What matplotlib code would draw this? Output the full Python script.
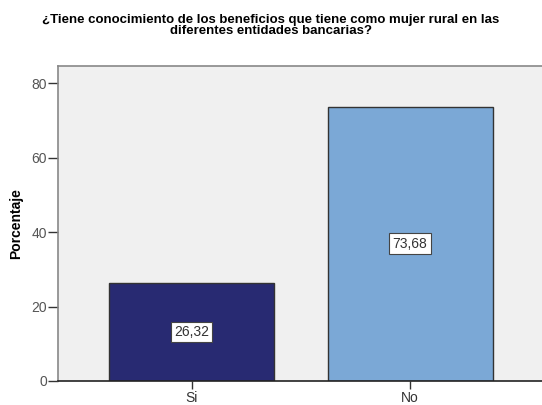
import matplotlib
matplotlib.use("Agg")
import matplotlib.pyplot as plt

plt.rcParams['font.family'] = ['Liberation Sans', 'DejaVu Sans']

# datos del grafico
categorias = ["Si", "No"]
porcentajes = [26.32, 73.68]
etiquetas = ["26,32", "73,68"]
colores = ["#282a72", "#7ba8d6"]
titulo = "¿Tiene conocimiento de los beneficios que tiene como mujer rural en las\ndiferentes entidades bancarias?"

fig = plt.figure(figsize=(5.42, 4.05), dpi=100)
ax = fig.add_axes([58 / 542, 24 / 405, 1 - 58 / 542, 315 / 405])
ax.set_facecolor("#f0f0f0")

x = list(range(len(categorias)))
ax.bar(x, porcentajes, width=0.755, color=colores, edgecolor="#333333", linewidth=1.0, zorder=2)

for xi, val, txt in zip(x, porcentajes, etiquetas):
    ax.text(xi, val / 2, txt, ha="center", va="center", fontsize=10, color="#333333",
            bbox=dict(boxstyle="square,pad=0.25", facecolor="white", edgecolor="#444444", linewidth=0.8),
            zorder=3)

ax.set_xlim(-0.611, 1.604)
ax.set_ylim(0, 84.6)
ax.set_yticks([0, 20, 40, 60, 80])
ax.set_xticks(x)
ax.set_xticklabels(categorias)
ax.tick_params(axis="y", direction="out", length=7, width=1, color="#333333", labelcolor="#555555", labelsize=10, pad=1)
ax.tick_params(axis="x", direction="out", length=6, width=1, color="#333333", labelcolor="#333333", labelsize=10, pad=1)

for side in ["top", "left"]:
    ax.spines[side].set_color("#888888")
    ax.spines[side].set_linewidth(1.2)
ax.spines["right"].set_visible(False)
ax.spines["bottom"].set_color("#222222")
ax.spines["bottom"].set_linewidth(1.2)

ax.set_ylabel("Porcentaje", fontsize=10, fontweight="bold", labelpad=6)
fig.text(0.5, 0.937, titulo, ha="center", va="center", fontsize=9.5, fontweight="bold",
         linespacing=0.95)

fig.savefig("out.png", dpi=100)
